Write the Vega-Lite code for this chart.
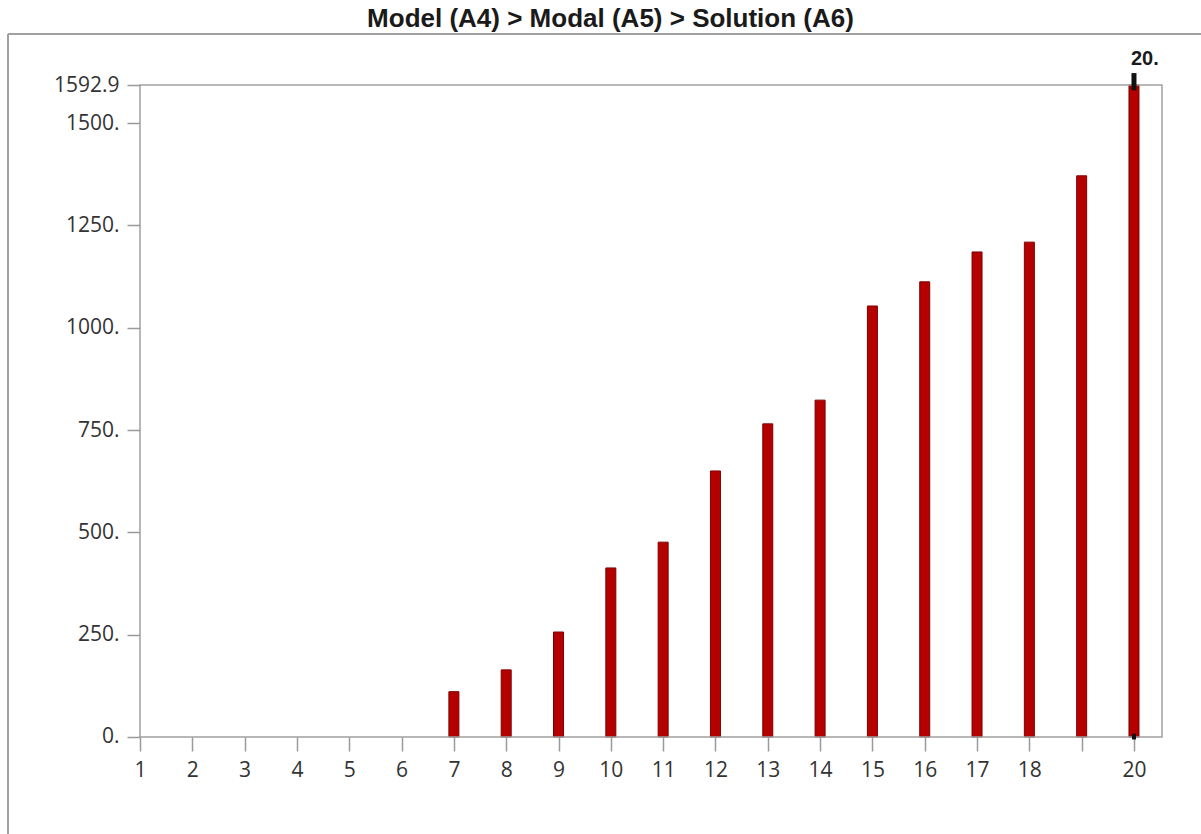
{
  "$schema": "https://vega.github.io/schema/vega-lite/v6.json",
  "width": 1193,
  "height": 800,
  "autosize": {"type": "none"},
  "padding": {"left": 8, "top": 34, "right": 0, "bottom": 0},
  "background": "white",
  "title": {
    "text": "Model (A4) > Modal (A5) > Solution (A6)",
    "font": "Liberation Sans",
    "fontSize": 26,
    "fontWeight": "bold",
    "color": "#1a1a1a",
    "anchor": "middle",
    "dx": 6,
    "offset": 1
  },
  "config": {
    "view": {"stroke": null},
    "axis": {
      "labelFont": "Open Sans",
      "labelFontSize": 21,
      "labelColor": "#333333",
      "tickColor": "#9a9a9a",
      "tickWidth": 1.5,
      "grid": false,
      "domain": false,
      "labelOverlap": false,
      "labelFlush": false,
      "labelBound": false
    }
  },
  "data": {
    "values": [
      {"mode": 1, "freq": 0},
      {"mode": 2, "freq": 0},
      {"mode": 3, "freq": 0},
      {"mode": 4, "freq": 0},
      {"mode": 5, "freq": 0},
      {"mode": 6, "freq": 0},
      {"mode": 7, "freq": 110.7},
      {"mode": 8, "freq": 164},
      {"mode": 9, "freq": 256.5},
      {"mode": 10, "freq": 413},
      {"mode": 11, "freq": 476},
      {"mode": 12, "freq": 650},
      {"mode": 13, "freq": 765},
      {"mode": 14, "freq": 823},
      {"mode": 15, "freq": 1053},
      {"mode": 16, "freq": 1112},
      {"mode": 17, "freq": 1185},
      {"mode": 18, "freq": 1209},
      {"mode": 19, "freq": 1371},
      {"mode": 20, "freq": 1592.9}
    ]
  },
  "layer": [
    {
      "mark": {"type": "bar", "size": 10, "fill": "#b50000", "stroke": "#7e0000", "strokeWidth": 1},
      "transform": [{"filter": "datum.freq > 0"}],
      "encoding": {
        "x": {
          "field": "mode",
          "type": "quantitative",
          "title": null,
          "scale": {"domain": [-1.523, 21.281], "nice": false, "zero": false, "padding": 0},
          "axis": {
            "values": [1,2,3,4,5,6,7,8,9,10,11,12,13,14,15,16,17,18,19,20],
            "labelExpr": "datum.value == 19 ? '' : datum.value",
            "offset": -97,
            "tickSize": 14,
            "labelPadding": 8
          }
        },
        "y": {
          "field": "freq",
          "type": "quantitative",
          "title": null,
          "scale": {"domain": [-237, 1717.5], "nice": false, "zero": false, "padding": 0},
          "axis": {
            "values": [0, 250, 500, 750, 1000, 1250, 1500, 1592.9],
            "labelExpr": "datum.value == 1592.9 ? '1592.9' : datum.value + '.'",
            "offset": -132,
            "tickSize": 13,
            "labelPadding": 8
          }
        },
        "y2": {"datum": 0}
      }
    },
    {
      "data": {"values": [{}]},
      "mark": {"type": "rect", "fillOpacity": 0, "stroke": "#a0a0a0", "strokeWidth": 1.5},
      "encoding": {
        "x": {"datum": 1, "type": "quantitative", "title": null},
        "x2": {"datum": 20.535},
        "y": {"datum": 0, "type": "quantitative", "title": null},
        "y2": {"datum": 1592.9}
      }
    },
    {
      "data": {"values": [{}]},
      "mark": {"type": "rule", "color": "#a0a0a0", "strokeWidth": 2},
      "encoding": {"y": {"datum": 1717.5, "type": "quantitative", "title": null}}
    },
    {
      "data": {"values": [{}]},
      "mark": {"type": "rule", "color": "#a0a0a0", "strokeWidth": 2},
      "encoding": {"x": {"datum": -1.523, "type": "quantitative", "title": null}}
    },
    {
      "data": {"values": [{}]},
      "mark": {"type": "rule", "color": "#111111", "strokeWidth": 5},
      "encoding": {
        "x": {"datum": 20, "type": "quantitative", "title": null},
        "y": {"datum": 1580, "type": "quantitative", "title": null},
        "y2": {"datum": 1622}
      }
    },
    {
      "data": {"values": [{}]},
      "mark": {"type": "rule", "color": "#111111", "strokeWidth": 4},
      "encoding": {
        "x": {"datum": 20, "type": "quantitative", "title": null},
        "y": {"datum": -6, "type": "quantitative", "title": null},
        "y2": {"datum": 8}
      }
    },
    {
      "data": {"values": [{}]},
      "mark": {"type": "text", "text": "20.", "font": "Liberation Sans", "fontSize": 20, "fontWeight": "bold", "color": "#1a1a1a", "align": "left", "baseline": "alphabetic", "dx": -3, "dy": -20},
      "encoding": {
        "x": {"datum": 20, "type": "quantitative", "title": null},
        "y": {"datum": 1592.9, "type": "quantitative", "title": null}
      }
    }
  ]
}
